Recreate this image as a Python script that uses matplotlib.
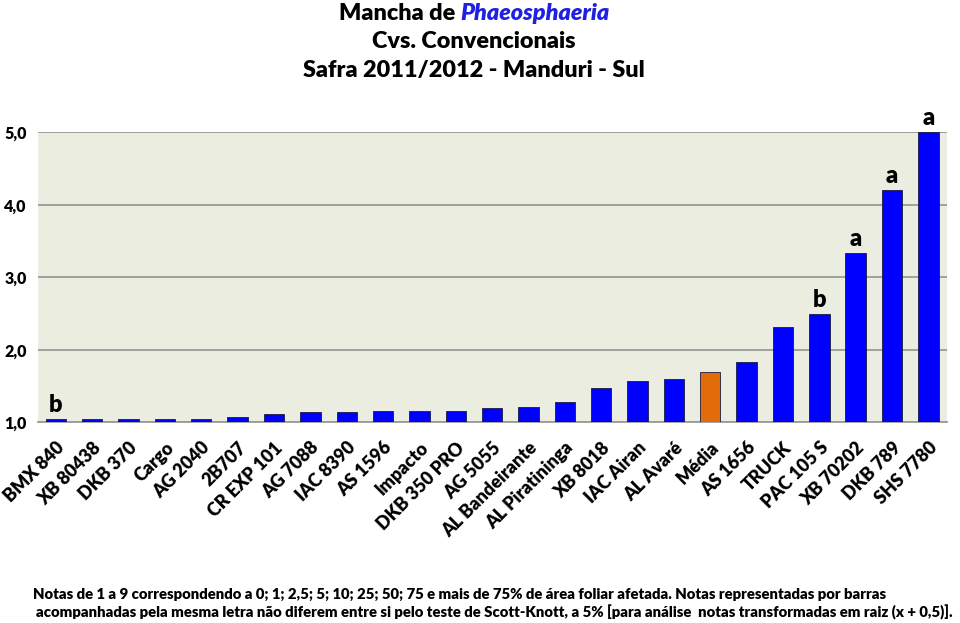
import matplotlib
matplotlib.use("Agg")
import matplotlib.pyplot as plt

plt.rcParams['font.family'] = ['Lato', 'DejaVu Sans']

categories = ["BMX 840", "XB 80438", "DKB 370", "Cargo", "AG 2040", "2B707",
              "CR EXP 101", "AG 7088", "IAC 8390", "AS 1596", "Impacto",
              "DKB 350 PRO", "AG 5055", "AL Bandeirante", "AL Piratininga",
              "XB 8018", "IAC Airan", "AL Avaré", "Média", "AS 1656", "TRUCK",
              "PAC 105 S", "XB 70202", "DKB 789", "SHS 7780"]
values = [1.05, 1.05, 1.05, 1.05, 1.05, 1.07, 1.12, 1.14, 1.14, 1.16, 1.16,
          1.16, 1.19, 1.21, 1.28, 1.47, 1.57, 1.60, 1.69, 1.83, 2.32, 2.49,
          3.33, 4.20, 5.00]
letters = ["b", "", "", "", "", "", "", "", "", "", "", "", "", "", "", "", "",
           "", "", "", "", "b", "a", "a", "a"]
yticks = [1.0, 2.0, 3.0, 4.0, 5.0]
ytick_labels = ["1,0", "2,0", "3,0", "4,0", "5,0"]

colors = ['#E36C0A' if c == "Média" else '#0000FF' for c in categories]

fig = plt.figure(figsize=(9.6, 6.23), dpi=100)
ax = fig.add_axes([0.0393, 0.3222, 0.9467, 0.4654])
ax.set_facecolor('#ECEDE1')

x = list(range(len(categories)))
heights = [v - 1.0 for v in values]
ax.bar(x, heights, bottom=1.0, width=0.56, color=colors, edgecolor='#1a1a40',
       linewidth=0.6, zorder=3)

for xi, v, l in zip(x, values, letters):
    if l:
        ax.text(xi, v + 0.04, l, ha='center', va='bottom', fontsize=17,
                fontweight='heavy', clip_on=False, zorder=4)

ax.set_xlim(-0.5, len(categories) - 0.5)
ax.set_ylim(1.0, 5.0)
ax.set_yticks(yticks)
ax.set_yticklabels(ytick_labels, fontsize=11.5, fontweight='heavy')
ax.yaxis.grid(True, color='#9a9a9a', linewidth=1.3, zorder=0)
ax.set_axisbelow(True)
ax.tick_params(axis='both', length=0)
ax.tick_params(axis='y', pad=8)
for s in ['top', 'right', 'left']:
    ax.spines[s].set_visible(False)
ax.spines['bottom'].set_color('#9a9a9a')
ax.spines['bottom'].set_linewidth(1.3)

ax.set_xticks(x)
ax.set_xticklabels(categories, rotation=45, ha='right', rotation_mode='anchor',
                   fontsize=13, fontweight='heavy')
ax.tick_params(axis='x', pad=12)

# Title
renderer = fig.canvas.get_renderer()
cx = 474 / 960
t1 = fig.text(0, 1 - 13 / 623, "Mancha de ", fontsize=16.8, fontweight='heavy',
              ha='left', va='center')
t2 = fig.text(0, 1 - 13 / 623, "Phaeosphaeria", fontsize=16.8, fontweight='heavy',
              style='italic', color='#2020E0', ha='left', va='center')
w1 = t1.get_window_extent(renderer).width / 960
w2 = t2.get_window_extent(renderer).width / 960
start = cx - (w1 + w2) / 2
t1.set_x(start)
t2.set_x(start + w1)
fig.text(cx, 1 - 42 / 623, "Cvs. Convencionais", fontsize=16.8,
         fontweight='heavy', ha='center', va='center')
fig.text(cx, 1 - 71 / 623, "Safra 2011/2012 - Manduri - Sul", fontsize=16.8,
         fontweight='heavy', ha='center', va='center')

# Footnote
fig.text(33 / 960, 1 - 594 / 623,
         "Notas de 1 a 9 correspondendo a 0; 1; 2,5; 5; 10; 25; 50; 75 e mais de 75% de área foliar afetada. Notas representadas por barras",
         fontsize=10.7, fontweight='heavy', ha='left', va='center')
fig.text(36 / 960, 1 - 612 / 623,
         "acompanhadas pela mesma letra não diferem entre si pelo teste de Scott-Knott, a 5% [para análise  notas transformadas em raiz (x + 0,5)].",
         fontsize=10.7, fontweight='heavy', ha='left', va='center')

fig.savefig("out.png", dpi=100, facecolor='white')
